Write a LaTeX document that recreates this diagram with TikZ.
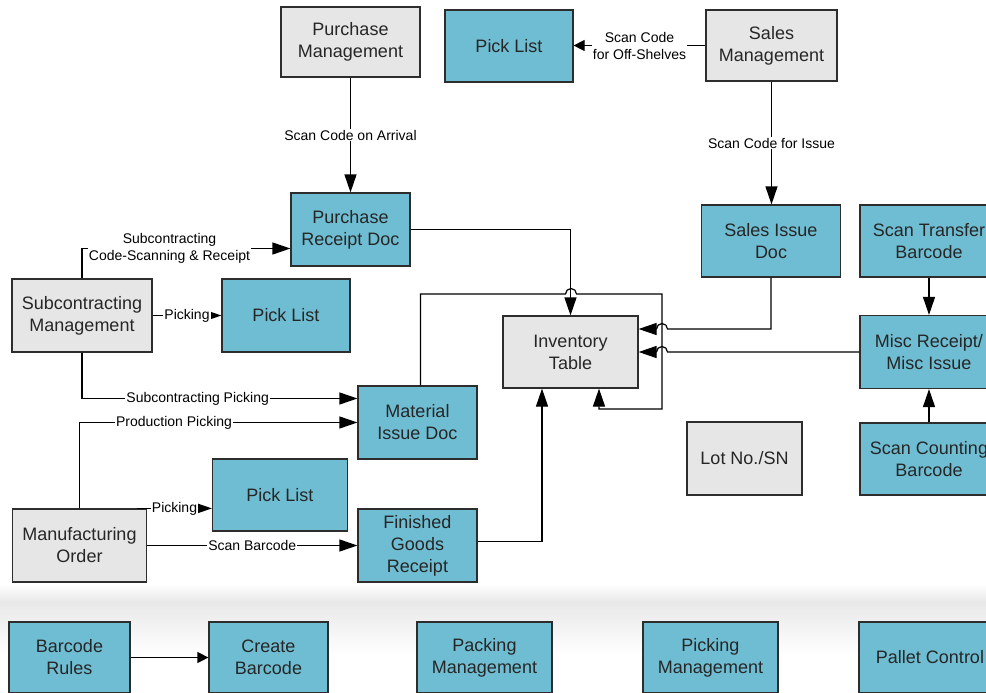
\documentclass[tikz,border=0pt]{standalone}
\usepackage{fontspec}
\setmainfont{Liberation Sans}
\usetikzlibrary{arrows.meta}
\definecolor{docblue}{RGB}{111,189,210}
\definecolor{mgmtgray}{RGB}{230,230,230}
\definecolor{edgegray}{RGB}{45,45,45}

\begin{document}
\begin{tikzpicture}[x=1pt, y=1pt, line width=1.2pt,
    box/.style={draw=edgegray, line width=1.2pt, align=center, text=black!85,
      font=\fontsize{18}{22}\selectfont, inner sep=0pt, minimum height=73pt},
    mgmt/.style={box, fill=mgmtgray},
    doc/.style={box, fill=docblue},
    lbl/.style={fill=white, inner sep=1pt, text=black, font=\fontsize{14}{17}\selectfont, align=center},
    arr/.style={-{Triangle[length=18pt,width=12pt]}},
    smallarr/.style={-{Triangle[length=11pt,width=11pt]}}]
  \clip (0,0) rectangle (986,-693);
  % band behind the bottom row
  \shade[top color=white, bottom color=black!9] (0,-584) rectangle (986,-602);
  \shade[top color=black!9, bottom color=white] (0,-602) rectangle (986,-655);

  \node (pmgmt) at (350.5,-42) [mgmt, minimum width=139pt, minimum height=70pt] {Purchase\\Management};
  \node (pick1) at (509,-46) [doc, minimum width=128pt, minimum height=72pt] {Pick List};
  \node (smgmt) at (771.5,-45.5) [mgmt, minimum width=131pt, minimum height=71pt] {Sales\\Management};
  \node (prdoc) at (350.5,-229.5) [doc, minimum width=119pt] {Purchase\\Receipt Doc};
  \node (sidoc) at (771,-241) [doc, minimum width=139pt, minimum height=72pt] {Sales Issue\\Doc};
  \node (stbar) at (929,-241) [doc, minimum width=138pt, minimum height=72pt] {Scan Transfer\\Barcode};
  \node (subm) at (82,-315.5) [mgmt, minimum width=140pt] {Subcontracting\\Management};
  \node (pick2) at (286,-315.5) [doc, minimum width=128pt] {Pick List};
  \node (inv) at (570.5,-352) [mgmt, minimum width=135pt, minimum height=72pt] {Inventory\\Table};
  \node (misc) at (929,-352) [doc, minimum width=138pt] {Misc Receipt/\\Misc Issue};
  \node (midoc) at (417.5,-422.5) [doc, minimum width=119pt] {Material\\Issue Doc};
  \node (lot) at (744.5,-458.5) [mgmt, minimum width=115pt] {Lot No./SN};
  \node (scbar) at (929,-459) [doc, minimum width=138pt, minimum height=72pt] {Scan Counting\\Barcode};
  \node (pick3) at (280,-495) [doc, minimum width=135pt, minimum height=72pt] {Pick List};
  \node (mfg) at (79.5,-545.5) [mgmt, minimum width=134pt] {Manufacturing\\Order};
  \node (fgr) at (417.5,-545.5) [doc, minimum width=119pt] {Finished\\Goods\\Receipt};
  \node (brules) at (69.5,-657.5) [doc, minimum width=121pt, minimum height=71pt] {Barcode\\Rules};
  \node (cbar) at (268.5,-657.5) [doc, minimum width=119pt, minimum height=71pt] {Create\\Barcode};
  \node (packm) at (484.5,-657.5) [doc, minimum width=135pt, minimum height=71pt] {Packing\\Management};
  \node (pickm) at (710.5,-657.5) [doc, minimum width=135pt, minimum height=71pt] {Picking\\Management};
  \node (pallet) at (930,-657.5) [doc, minimum width=142pt, minimum height=71pt] {Pallet Control};

  \coordinate (hopA) at (565.5,-294);
  \coordinate (busNE) at (662,-294);
  \coordinate (busSE) at (662,-409);
  \coordinate (hopB) at (667.5,-329);
  \coordinate (hopC) at (667.5,-352);

  \draw[arr] (pmgmt) -- node[lbl] {Scan Code on Arrival} (prdoc);
  \draw[smallarr] (smgmt.west) -- node[lbl] {Scan Code\\for Off-Shelves} (smgmt.west -| pick1.east);
  \draw[arr] (smgmt.south) -- node[lbl] {Scan Code for Issue} (smgmt.south |- sidoc.north);
  \draw[arr] (subm.north) |- node[lbl, pos=0.71] {Subcontracting\\Code-Scanning \& Receipt} ([yshift=-19pt]prdoc.west);
  \draw[arr] (subm) -- node[lbl] {Picking} (pick2);
  \draw[arr] (subm.south) |- node[lbl, pos=0.71] {Subcontracting Picking} ([yshift=24pt]midoc.west);
  \draw[arr] (mfg.north) |- node[lbl, pos=0.67] {Production Picking} (midoc.west);
  \draw[arr] ([xshift=-10pt]mfg.north east) -- node[lbl] {Picking} (pick3.west |- mfg.north);
  \draw[arr] (mfg) -- node[lbl] {Scan Barcode} (fgr);

  \draw[arr] (prdoc.east) -| (inv.north);
  \draw[arr] ([xshift=3pt]midoc.north) |- (hopA) arc[start angle=180, end angle=0, radius=5.5pt]
    -- (busNE) -- (busSE) -| ([xshift=28.5pt]inv.south);
  \draw[arr] (sidoc.south) |- (hopB) arc[start angle=0, end angle=180, radius=5.5pt] -- ([yshift=23pt]inv.east);
  \draw[arr] (misc.west) -- (hopC) arc[start angle=0, end angle=180, radius=5.5pt] -- (inv.east);
  \draw[arr] ([yshift=4pt]fgr.east) -| ([xshift=-28.5pt]inv.south);

  \foreach \source/\dest in {stbar/misc, scbar/misc}
    \draw[arr] (\source) -- (\dest);
  \draw[smallarr] (brules) -- (cbar);
\end{tikzpicture}
\end{document}
